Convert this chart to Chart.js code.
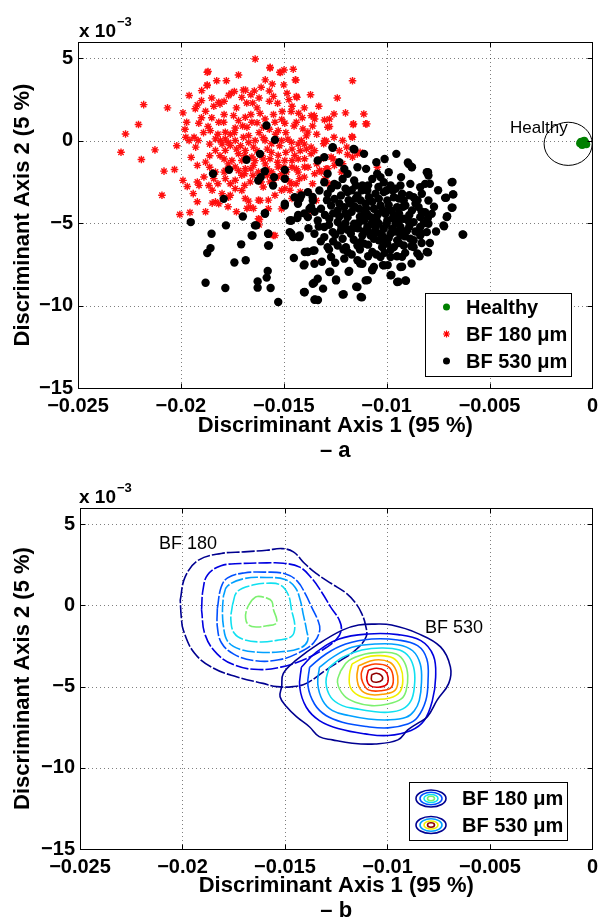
<!DOCTYPE html>
<html>
<head>
<meta charset="utf-8">
<script src="https://cdn.jsdelivr.net/npm/chart.js@4.4.1/dist/chart.umd.min.js"></script>
<style>
  html, body { margin: 0; padding: 0; background: #fff; }
  #wrap { position: relative; width: 604px; height: 919px; }
  canvas { position: absolute; left: 0; }
</style>
</head>
<body>
<div id="wrap">
  <canvas id="scatterChart" width="604" height="460" style="top:0"></canvas>
  <canvas id="contourChart" width="604" height="459" style="top:460px"></canvas>
</div>
<script>
// axis values are in units of 1e-3
const xTicks = [-25, -20, -15, -10, -5, 0];
const yTicks = [-15, -10, -5, 0, 5];

const healthy = [[-0.55,-0.05],[-0.45,-0.2],[-0.35,-0.1],[-0.5,-0.25],[-0.4,0.0],[-0.3,-0.2],[-0.6,-0.15],[-0.42,-0.12]];
const healthyRing = { x: -1.18, y: -0.18, rx: 1.17, ry: 1.31 };

const bf180 = [
  [-21.81,2.2],[-20.65,2.0],[-22.69,0.42],[-22.06,0.99],[-22.91,-0.69],[-21.26,-0.55],[-21.92,-1.13],[-20.82,-1.84],[-20.31,-1.74],[-20.92,-3.3],[-20.05,-4.47],[-19.56,-4.35],[-19.69,-2.77],
  [-16.39,4.97],[-18.72,4.16],[-15.67,4.42],[-15.19,4.16],[-14.99,4.3],[-14.44,3.7],[-17.79,3.65],[-18.72,3.39],[-16.96,3.09],[-16.43,3.03],[-16.1,3.25],[-15.56,3.45],[-15.7,3.03],[-19.6,2.75],[-18.99,3.05],[-17.55,2.89],[-17.68,2.75],[-17.04,2.64],[-16.51,2.3],[-18.4,2.1],[-18.1,2.23],[-19.2,2.18],[-19.3,1.95],[-18.8,1.8],[-15.3,2.28],[-14.84,2.89],[-14.75,2.5],[-14.39,2.69],[-15.08,1.78],[-14.64,1.78],[-14.28,1.68],[-13.67,1.53],
  [-19.72,1.13],[-19.13,1.07],[-18.68,0.87],[-18.57,0.62],[-18.16,1.13],[-17.92,1.13],[-17.44,1.53],[-17.2,1.23],[-16.87,1.43],[-16.55,1.13],[-16.79,0.83],[-17.36,0.78],[-17.84,0.52],[-16.15,1.67],[-15.91,1.33],[-15.99,0.83],[-15.43,1.13],[-15.27,0.62],[-14.95,1.07],[-14.39,1.13],[-14.07,0.73],[-13.83,0.53],[-13.5,1.33],[-13.02,1.27],[-12.86,0.83],[-13.02,0.02],[-13.67,-0.38],
  [-19.76,0.22],[-19.6,0.02],[-19.36,0.22],[-19.16,0.02],[-19.28,-0.38],[-18.32,0.12],[-18.08,0.02],[-17.84,0.12],[-17.6,-0.28],[-17.36,0.02],[-16.96,0.22],[-16.71,0.32],[-16.39,0.02],[-16.47,-0.38],[-15.91,0.02],[-15.59,-0.18],[-15.11,0.02],[-14.63,-0.08],[-14.15,0.02],
  [-18.32,-0.58],[-17.84,-0.58],[-17.2,-0.78],[-16.87,-0.58],[-17.52,-1.19],[-17.04,-1.19],[-16.55,-0.98],[-16.07,-0.88],[-15.67,-1.09],[-15.27,-0.88],[-14.95,-1.19],[-14.47,-0.88],[-13.99,-1.09],[-13.67,-0.78],[-13.18,-1.09],[-12.7,-0.98],
  [-19.2,-1.49],[-18.8,-1.29],[-18.88,-2.19],[-18.32,-1.89],[-17.84,-1.79],[-17.36,-1.59],[-16.87,-1.69],[-16.47,-1.49],[-16.23,-1.89],[-15.59,-1.89],[-15.27,-1.59],[-14.87,-1.89],[-14.39,-1.69],[-13.99,-1.59],[-13.26,-1.79],[-12.94,-1.69],[-12.54,-1.49],
  [-18.4,-2.29],[-17.84,-2.29],[-17.36,-2.39],[-17.04,-2.09],[-16.63,-2.49],[-16.15,-2.29],[-15.67,-2.49],[-15.27,-2.19],[-14.71,-2.49],[-14.23,-2.29],[-19.12,-2.7],[-18.48,-3.0],[-18.0,-3.2],[-17.36,-2.9],[-16.87,-3.5],[-16.23,-3.6],[-15.43,-3.3],[-14.95,-2.9],[-19.2,-3.7],[-18.32,-3.7],[-17.71,-4.0],[-16.79,-4.1],
  [-12.78,0.87],[-11.61,1.03],[-11.02,1.03],[-11.69,0.26],[-12.14,0.02],[-12.94,-0.02],[-13.5,-0.59],[-11.9,-0.83],[-11.42,-0.79],[-12.14,-1.39],[-12.86,-1.69],[-13.18,-1.89],[-13.82,-1.6],[-14.3,-1.9],[-14.63,-2.6],[-15.11,-3.0],[-15.75,-3.6],[-13.42,-3.62],[-13.82,-4.53],[-15.51,-5.74],[-13.5,-7.42],[-10.45,-1.6],[-16.23,-4.73],[-16.47,-4.1],
  [-11.66,3.65],[-11.11,1.63],[-10.96,1.03],[-11.63,0.99],[-12.56,1.63],[-13.52,1.53],[-14.36,2.64],[-14.54,4.35],[-14.41,3.69],[-15.16,4.15],[-15.66,4.46],[-16.86,3.08],[-18.26,3.65],[-18.68,4.21],[-18.72,3.35],[-18.16,2.34],[-19.0,2.44],[-12.78,1.33],[-13.06,-0.18],[-12.56,0.22],[-11.66,0.22],[-11.94,-0.38],[-11.66,-0.99],[-11.29,-0.69],
  [-19.2,-2.5],[-18.64,-2.71],[-18.48,-3.78],[-18.16,-3.82],[-17.68,-3.42],[-17.04,-3.01],[-16.71,-3.66],[-16.63,-4.02],[-16.15,-3.62],[-15.75,-4.12],[-15.11,-4.13],[-16.18,-4.77],[-15.43,-5.74],
  [-17.9,1.6],[-17.6,0.4],[-17.1,-0.3],[-16.7,-0.1],[-16.2,0.5],[-15.8,-0.5],[-15.4,0.4],[-14.9,0.5],[-14.6,-0.5],[-14.2,-0.6],[-17.9,-1.1],[-16.4,-1.2],[-15.9,-1.4],[-15.0,-1.6],[-14.6,-1.2],[-16.9,-2.0],[-15.8,-2.1],[-14.9,-2.3],[-17.6,-2.6],[-16.0,-2.8],[-18.6,-0.9],[-18.9,0.5],[-16.3,2.0],[-15.7,2.4],[-14.1,1.4],[-13.4,0.4],[-12.3,-0.6],[-13.0,-2.3],[-13.6,-2.6],[-14.2,-3.1],[-16.6,2.8],[-17.3,2.0],[-18.0,-0.2],[-15.2,-0.3],[-14.0,-0.2],
  [-18.5,1.4],[-18.2,0.4],[-17.7,-0.1],[-17.4,0.5],[-17.0,0.9],[-16.6,1.6],[-16.3,1.1],[-16.0,0.2],[-15.7,0.7],[-15.5,1.6],[-15.1,1.3],[-14.8,0.1],[-14.5,0.9],[-14.3,-0.2],[-13.9,0.3],[-13.6,0.9],
  [-18.6,-0.2],[-18.1,-0.9],[-17.7,-1.4],[-17.3,-0.5],[-16.9,-0.9],[-16.6,-1.7],[-16.3,-0.6],[-16.0,-1.1],[-15.6,-0.7],[-15.3,-1.3],[-14.9,-0.7],[-14.6,-1.6],[-14.3,-1.1],[-13.9,-0.5],[-13.4,-1.4],
  [-18.6,-1.6],[-18.2,-2.6],[-17.9,-1.9],[-17.6,-3.3],[-17.2,-1.8],[-16.9,-2.7],[-16.5,-2.1],[-16.1,-2.5],[-15.8,-1.7],[-15.5,-2.4],[-15.1,-2.0],[-14.7,-3.0],[-14.4,-2.6],[-14.0,-2.2],[-13.5,-2.0],
  [-19.0,1.4],[-18.5,2.6],[-17.9,2.4],[-17.4,3.0],[-16.8,2.3],[-16.2,2.6],[-15.5,2.7],[-15.0,3.4],[-14.6,2.1],[-14.0,2.0],[-13.3,2.1],[-12.4,2.6],[-12.0,1.7],[-12.6,-1.1],[-12.2,-1.9],
  [-19.5,-1.0],[-19.8,0.7],[-20.2,-0.3],[-19.9,-2.4],[-19.4,-3.2],[-18.8,-4.3],[-17.3,-4.3],[-16.2,-5.1],[-14.6,-3.5],[-13.8,-3.1],[-12.8,-2.6],[-13.7,2.8],[-15.9,3.7],[-17.2,4.0],[-19.9,1.7]
];

const bf530 = [
  [-15.84,0.93],[-15.43,0.06],[-16.16,-0.79],[-15.92,-1.84],[-16.24,-2.41],[-15.52,-2.71],[-14.95,-1.76],[-14.95,-3.92],[-15.92,-4.39],[-16.4,-5.13],[-16.56,-5.74],[-15.76,-5.64],[-15.76,-6.35],[-14.63,-5.64],[-14.31,-5.84],[-14.71,-4.83],[-14.34,-4.69],[-13.75,-4.12],
  [-12.62,-0.39],[-11.61,-0.49],[-11.1,-0.79],[-12.06,-1.7],[-11.42,-1.6],[-11.9,-2.0],[-10.46,-2.0],[-10.3,-2.2],[-9.53,-0.79],[-8.93,-1.4],[-8.77,-1.6],[-8.05,-1.9],[-7.97,-2.1],
  [-13.03,-2.51],[-12.54,-2.61],[-12.14,-2.31],[-11.58,-2.41],[-11.18,-2.71],[-10.7,-2.31],[-10.14,-2.51],[-9.81,-2.71],[-9.33,-2.71],[-8.85,-2.61],[-8.37,-2.81],[-8.13,-2.61],[-6.84,-2.51],
  [-13.27,-3.01],[-12.87,-3.21],[-12.22,-3.32],[-11.9,-3.11],[-11.42,-3.32],[-10.94,-3.01],[-10.54,-3.21],[-10.14,-3.11],[-9.65,-3.42],[-9.25,-3.21],[-8.69,-3.42],[-8.29,-3.21],[-7.97,-3.62],[-7.16,-3.46],[-6.76,-3.25],
  [-14.31,-3.82],[-13.67,-4.02],[-13.19,-4.12],[-12.7,-3.92],[-12.38,-4.22],[-11.74,-3.82],[-11.34,-4.12],[-11.02,-3.82],[-10.62,-4.12],[-10.3,-3.92],[-9.89,-4.22],[-9.49,-4.02],[-9.09,-3.92],[-8.77,-4.22],[-8.45,-4.02],[-8.13,-4.33],[-7.81,-4.43],[-6.84,-4.06],[-7.08,-4.63],
  [-14.63,-4.83],[-13.83,-4.63],[-13.35,-4.83],[-12.79,-4.73],[-12.38,-4.93],[-11.9,-4.63],[-11.58,-5.03],[-11.1,-4.83],[-10.78,-4.63],[-10.38,-5.03],[-9.97,-4.83],[-9.57,-5.03],[-9.17,-4.73],[-8.69,-4.93],[-8.37,-5.23],[-7.97,-5.03],[-7.24,-5.13],
  [-14.71,-5.54],[-14.23,-5.84],[-13.51,-5.64],[-13.03,-5.84],[-12.62,-5.54],[-12.14,-5.94],[-11.74,-5.64],[-11.18,-5.74],[-10.86,-5.54],[-10.62,-5.94],[-10.22,-5.74],[-9.81,-5.64],[-9.33,-5.74],[-8.85,-5.94],[-8.37,-5.74],[-8.05,-5.54],[-6.31,-5.68],
  [-13.83,-6.75],[-13.51,-6.65],[-12.87,-6.45],[-12.38,-6.35],[-11.98,-6.45],[-11.42,-6.35],[-11.1,-6.24],[-10.7,-6.75],[-10.22,-6.45],[-9.97,-6.24],[-9.65,-6.45],[-9.17,-6.35],[-8.05,-6.75],
  [-13.51,-7.46],[-12.7,-7.05],[-12.06,-7.15],[-11.42,-7.25],[-11.18,-7.46],[-10.62,-7.66],[-10.3,-7.05],[-10.14,-7.56],[-9.81,-7.05],[-9.33,-7.66],
  [-13.59,-8.67],[-13.35,-8.37],[-12.79,-7.96],[-12.46,-8.47],[-11.82,-7.9],[-11.42,-8.87],[-11.02,-8.47],[-10.7,-7.86],[-9.81,-8.16],[-9.49,-8.57],[-9.09,-8.47],
  [-13.99,-9.17],[-13.51,-9.64],[-12.14,-9.33],[-11.26,-9.48],[-15.27,-9.78],
  [-11.26,-3.62],[-10.86,-3.42],[-10.38,-3.52],[-9.97,-3.62],[-11.1,-4.43],[-10.46,-4.53],[-10.06,-4.43],[-9.65,-4.53],[-10.94,-5.23],[-10.54,-5.34],[-10.14,-5.34],[-9.73,-5.34],[-11.26,-6.14],[-9.33,-5.23],[-10.38,-6.04],[-10.78,-5.74],
  [-14.47,-3.42],[-14.15,-3.32],[-13.83,-3.11],[-13.59,-3.62],[-12.87,-2.0],[-13.35,-1.19],[-13.03,-0.99],
  [-12.54,-3.52],[-12.06,-4.02],[-13.03,-5.23],[-12.22,-5.44],[-11.9,-6.75],[-9.49,-6.04],[-9.01,-5.44],[-8.69,-6.45],[-8.37,-4.63],[-9.17,-3.62],[-9.57,-2.91],[-11.5,-2.71],
  [-17.92,-3.52],[-19.52,-4.93],[-17.81,-5.13],[-16.99,-4.59],[-15.91,-4.42],[-16.34,-5.13],[-18.51,-5.64],[-16.52,-5.74],[-15.75,-5.64],[-17.07,-6.28],[-18.56,-6.51],[-18.72,-6.81],[-15.72,-6.35],[-16.85,-7.25],[-17.4,-7.38],[-15.78,-7.9],[-15.83,-8.3],[-16.27,-8.53],[-16.27,-8.91],[-15.64,-8.93],[-18.8,-8.61],[-17.84,-8.93],[-14.51,-7.11],[-14.03,-7.56],[-14.02,-9.18],[-14.55,-5.84],[-14.23,-5.74],[-14.66,-4.83],[-14.3,-4.5],[-14.95,-3.82],[-14.22,-3.52],[-13.98,-6.75],
  [-12.63,-0.42],[-11.57,-0.52],[-16.81,-1.15],[-17.66,-1.75],[-18.44,-2.0],[-16.12,-2.2],[-15.47,-2.2],[-14.95,-2.3],[-8.97,-1.31],[-8.79,-1.59],[-7.99,-1.9],[-6.8,-2.5],[-7.11,-3.45],[-6.78,-3.25],[-6.8,-4.05],[-7.06,-4.58],[-7.21,-5.18],[-6.28,-5.69],[-7.99,-6.77],
  [-9.06,-8.49],[-9.43,-8.55],[-9.77,-8.14],[-9.25,-7.64],[-11.2,-9.5],[-11.48,-8.85],[-12.09,-9.31],[-12.46,-8.41],[-12.74,-7.94],[-13.09,-8.97],[-13.34,-9.66],[-13.48,-9.62],[-13.52,-8.61],[-13.99,-9.19],[-13.99,-7.5],[-13.86,-6.73],[-13.58,-6.67],[-13.15,-7.34],[-12.5,-7.4],[-11.85,-7.94],[-11.29,-7.44],[-10.92,-8.45],[-10.7,-7.8],[-10.18,-7.54],[-9.95,-7.54],[-9.25,-7.04],[-8.79,-7.44],[-8.51,-6.83],[-8.32,-5.63],[-8.69,-6.03],
  [-12.9,-3.6],[-12.6,-4.4],[-12.3,-3.8],[-12.0,-4.4],[-11.7,-4.3],[-11.5,-3.5],[-11.3,-4.6],[-11.0,-4.1],[-10.7,-3.7],[-10.5,-4.8],[-10.2,-4.2],[-9.9,-3.9],[-9.7,-4.7],[-9.4,-4.4],[-9.2,-4.0],[-8.9,-4.5],[-8.6,-3.8],[-8.3,-4.3],
  [-12.8,-5.1],[-12.5,-5.7],[-12.2,-5.2],[-11.9,-5.4],[-11.6,-6.0],[-11.4,-5.3],[-11.1,-5.5],[-10.9,-6.3],[-10.6,-5.6],[-10.4,-4.4],[-10.1,-6.1],[-9.9,-5.9],[-9.6,-5.5],[-9.4,-6.2],[-9.1,-5.8],[-8.9,-5.2],[-8.6,-5.5],[-8.3,-6.2],
  [-12.6,-6.1],[-12.1,-6.6],[-11.7,-6.9],[-11.3,-6.6],[-10.9,-7.0],[-10.5,-6.9],[-10.1,-6.8],[-9.8,-6.6],[-9.5,-7.0],[-9.1,-6.8],[-8.8,-6.4],
  [-12.7,-2.9],[-12.4,-2.7],[-12.0,-2.9],[-11.7,-3.0],[-11.2,-3.0],[-10.9,-2.7],[-10.4,-2.8],[-10.0,-3.0],[-9.7,-3.0],[-9.4,-3.5],[-8.9,-3.3],[-8.5,-3.6],
  [-13.5,-4.3],[-13.3,-5.2],[-13.0,-4.5],[-12.8,-6.6],[-13.2,-6.1],[-13.8,-5.3],[-14.0,-4.4],[-13.6,-3.4],
  [-11.85,-3.6],[-11.55,-4.0],[-10.95,-4.45],[-10.75,-5.05],[-10.3,-5.65],[-10.0,-5.05],[-9.75,-4.25],[-9.4,-4.85],[-9.3,-5.45],[-8.95,-4.85],[-11.35,-4.95],[-11.65,-5.3],[-12.0,-5.0],[-12.3,-4.6],
  [-8.2,-5.0],[-8.0,-4.7],[-7.7,-4.0],[-7.6,-5.5],[-7.9,-6.2],[-8.4,-7.0],[-7.5,-3.0],[-7.9,-2.6],
  [-11.0,-1.7],[-10.5,-1.3],[-9.9,-1.9],[-9.3,-2.2],[-12.3,-1.3],[-10.1,-1.1]
];

// density contour rings, outermost first
const levelColors = ['#000090', '#0000e0', '#0050ff', '#00a0ff', '#10e0f0', '#7cf070', '#f0f000', '#ffa000', '#ff4000', '#e00000', '#900000'];

const bf180Levels = [
  [[-20.11,0.33],[-19.87,1.76],[-19.22,2.79],[-18.11,3.2],[-17.0,3.3],[-15.89,3.4],[-15.15,3.5],[-14.59,3.3],[-14.04,2.58],[-13.48,1.97],[-12.74,1.35],[-12.0,0.74],[-11.54,0.12],[-11.26,-0.49],[-11.07,-1.21],[-11.04,-1.93],[-11.56,-2.75],[-12.3,-3.4],[-13.0,-3.98],[-13.96,-4.8],[-14.6,-5.0],[-15.4,-5.0],[-16.07,-4.8],[-17.37,-4.39],[-18.48,-3.87],[-19.41,-2.95],[-19.96,-1.52],[-20.06,-0.7]],
  [[-19.07,-0.27],[-19.0,0.96],[-18.77,1.89],[-18.12,2.44],[-17.16,2.58],[-15.88,2.62],[-15.08,2.6],[-14.28,2.36],[-13.7,1.68],[-13.2,0.8],[-12.77,-0.1],[-12.35,-0.9],[-12.25,-1.5],[-12.5,-2.1],[-13.24,-2.8],[-14.2,-3.4],[-15.2,-3.8],[-16.3,-3.95],[-17.4,-3.7],[-18.3,-3.0],[-18.9,-1.8]],
  [[-18.3,-0.2],[-18.12,1.1],[-17.8,1.7],[-17.0,2.0],[-15.9,2.05],[-15.0,1.95],[-14.4,1.5],[-14.0,0.7],[-13.7,-0.1],[-13.4,-0.9],[-13.3,-1.5],[-13.6,-2.3],[-14.3,-2.9],[-15.3,-3.35],[-16.5,-3.4],[-17.5,-3.0],[-18.1,-2.3],[-18.3,-1.3]],
  [[-18.0,0.6],[-17.8,1.2],[-17.0,1.65],[-15.9,1.72],[-15.0,1.6],[-14.5,1.1],[-14.25,0.3],[-14.1,-0.6],[-13.95,-1.5],[-13.9,-2.2],[-14.3,-2.65],[-15.2,-2.85],[-16.3,-2.88],[-17.2,-2.7],[-17.8,-2.2],[-18.0,-1.3],[-18.05,-0.3]],
  [[-17.56,0.04],[-17.32,0.86],[-16.52,1.27],[-15.88,1.37],[-15.24,1.27],[-14.84,0.66],[-14.68,-0.27],[-14.52,-1.29],[-14.68,-1.91],[-15.4,-2.15],[-16.2,-2.25],[-17.0,-2.11],[-17.48,-1.7],[-17.64,-0.88]],
  [[-16.6,0.35],[-16.36,0.55],[-15.88,0.45],[-15.64,0.25],[-15.56,-0.27],[-15.4,-0.88],[-15.48,-1.15],[-15.88,-1.25],[-16.36,-1.33],[-16.76,-1.22],[-16.92,-0.78],[-16.84,-0.16]]
];

const bf530Levels = [
  [[-15.16,-5.0],[-15.08,-4.18],[-14.44,-3.36],[-13.33,-2.34],[-12.2,-1.52],[-11.41,-1.21],[-10.61,-1.15],[-9.8,-1.21],[-8.53,-1.72],[-7.41,-2.55],[-6.93,-3.78],[-7.01,-4.8],[-7.57,-5.82],[-8.05,-6.85],[-8.53,-7.26],[-9.01,-7.67],[-9.49,-8.28],[-10.61,-8.53],[-11.72,-8.49],[-12.68,-8.28],[-13.33,-8.08],[-13.81,-7.47],[-14.44,-6.85],[-14.92,-6.24],[-15.24,-5.62]],
  [[-14.2,-3.81],[-13.48,-2.89],[-12.36,-2.07],[-10.93,-1.76],[-9.49,-1.8],[-8.37,-2.17],[-7.76,-3.09],[-7.65,-4.43],[-7.81,-5.86],[-8.21,-7.09],[-8.85,-7.7],[-9.97,-8.01],[-11.09,-7.91],[-12.36,-7.6],[-13.32,-7.09],[-13.96,-6.27],[-14.28,-5.04]],
  [[-13.8,-3.81],[-13.0,-2.99],[-12.04,-2.38],[-10.77,-2.07],[-9.49,-2.13],[-8.53,-2.48],[-8.08,-3.3],[-8.02,-4.63],[-8.13,-5.86],[-8.53,-6.89],[-9.01,-7.3],[-9.97,-7.54],[-11.01,-7.46],[-12.2,-7.19],[-13.0,-6.78],[-13.56,-6.07],[-13.88,-4.94]],
  [[-13.32,-3.81],[-12.68,-3.2],[-11.73,-2.58],[-10.61,-2.38],[-9.49,-2.42],[-8.77,-2.79],[-8.4,-3.61],[-8.34,-4.73],[-8.45,-5.86],[-8.69,-6.48],[-9.09,-6.89],[-9.97,-7.05],[-10.93,-6.99],[-11.89,-6.78],[-12.68,-6.48],[-13.16,-5.86],[-13.4,-4.84]],
  [[-12.84,-3.81],[-12.2,-3.2],[-11.25,-2.75],[-10.29,-2.62],[-9.41,-2.75],[-8.93,-3.2],[-8.69,-4.02],[-8.69,-5.04],[-8.85,-5.86],[-9.25,-6.37],[-9.97,-6.58],[-10.77,-6.52],[-11.49,-6.37],[-12.2,-6.17],[-12.76,-5.66],[-13.0,-4.73]],
  [[-12.28,-4.02],[-11.89,-3.4],[-11.09,-2.99],[-10.29,-2.89],[-9.57,-2.99],[-9.17,-3.5],[-9.01,-4.32],[-9.09,-5.25],[-9.33,-5.76],[-9.97,-6.07],[-10.77,-6.17],[-11.57,-5.96],[-12.12,-5.55],[-12.44,-4.73]],
  [[-11.73,-3.61],[-11.09,-3.2],[-10.45,-3.09],[-9.73,-3.24],[-9.36,-3.81],[-9.25,-4.63],[-9.41,-5.35],[-9.89,-5.7],[-10.69,-5.76],[-11.41,-5.55],[-11.81,-5.04],[-11.85,-4.22]],
  [[-11.41,-3.71],[-10.61,-3.36],[-9.89,-3.5],[-9.57,-4.02],[-9.49,-4.73],[-9.65,-5.25],[-10.13,-5.45],[-10.85,-5.49],[-11.33,-5.14],[-11.49,-4.43]],
  [[-11.17,-3.81],[-10.61,-3.61],[-9.97,-3.77],[-9.73,-4.32],[-9.81,-5.04],[-10.29,-5.25],[-10.93,-5.2],[-11.21,-4.73],[-11.28,-4.22]],
  [[-10.93,-3.98],[-10.53,-3.87],[-10.13,-4.02],[-9.97,-4.43],[-10.05,-4.88],[-10.45,-5.04],[-10.85,-4.94],[-11.01,-4.53]],
  [[-10.77,-4.26],[-10.53,-4.18],[-10.29,-4.32],[-10.26,-4.59],[-10.53,-4.73],[-10.77,-4.63]]
];

const FONT = '"Liberation Sans", Arial, Helvetica, sans-serif';
const toPts = arr => arr.map(p => ({ x: p[0], y: p[1] }));
const closeRing = arr => toPts(arr.concat([arr[0]]));

function fmtX(v) { return v === 0 ? '0' : '\u2212' + (Math.abs(v) / 1000); }
function fmtY(v) { return v < 0 ? '\u2212' + Math.abs(v) : String(v); }

function makeScales(xHeight, yWidth, xTitlePad) {
  return {
    x: {
      type: 'linear', min: -25, max: 0, bounds: 'data',
      afterBuildTicks: s => { s.ticks = xTicks.map(v => ({ value: v })); },
      afterFit: s => { s.height = xHeight; },
      grid: { display: false, drawTicks: false },
      border: { display: false },
      ticks: { padding: 6, color: '#000', autoSkip: false, maxRotation: 0, font: { family: FONT, size: 20, weight: 'bold' }, callback: fmtX },
      title: { display: true, text: 'Discriminant Axis 1 (95 %)', color: '#000', font: { family: FONT, size: 22, weight: 'bold' }, padding: { top: 0, bottom: xTitlePad } }
    },
    y: {
      type: 'linear', min: -15, max: 6, bounds: 'data',
      afterBuildTicks: s => { s.ticks = yTicks.map(v => ({ value: v })); },
      afterFit: s => { s.width = yWidth; },
      grid: { display: false, drawTicks: false },
      border: { display: false },
      ticks: { padding: 5, color: '#000', autoSkip: false, font: { family: FONT, size: 20, weight: 'bold' }, callback: fmtY },
      title: { display: true, text: 'Discriminant Axis 2 (5 %)', color: '#000', font: { family: FONT, size: 22, weight: 'bold' }, padding: { top: 10, bottom: 0 } }
    }
  };
}

// dotted grid under the data, box and inward ticks over it
const framePlugin = {
  id: 'frame',
  beforeDatasetsDraw(chart) {
    const { ctx, chartArea: a, scales: { x, y } } = chart;
    ctx.save();
    ctx.strokeStyle = 'rgba(0,0,0,0.5)';
    ctx.lineWidth = 1;
    ctx.setLineDash([1, 3]);
    ctx.beginPath();
    xTicks.forEach(v => {
      if (v <= x.min || v >= x.max) return;
      const p = Math.round(x.getPixelForValue(v)) + 0.5;
      ctx.moveTo(p, a.top); ctx.lineTo(p, a.bottom);
    });
    yTicks.forEach(v => {
      if (v <= y.min || v >= y.max) return;
      const p = Math.round(y.getPixelForValue(v)) + 0.5;
      ctx.moveTo(a.left, p); ctx.lineTo(a.right, p);
    });
    ctx.stroke();
    ctx.restore();
  },
  afterDatasetsDraw(chart) {
    const { ctx, chartArea: a, scales: { x, y } } = chart;
    const L = Math.round(a.left) + 0.5, R = Math.round(a.right) + 0.5;
    const T = Math.round(a.top) + 0.5, B = Math.round(a.bottom) + 0.5;
    ctx.save();
    ctx.strokeStyle = '#000';
    ctx.lineWidth = 1;
    ctx.strokeRect(L, T, R - L, B - T);
    ctx.beginPath();
    xTicks.forEach(v => {
      const p = Math.round(x.getPixelForValue(v)) + 0.5;
      ctx.moveTo(p, B); ctx.lineTo(p, B - 5);
      ctx.moveTo(p, T); ctx.lineTo(p, T + 5);
    });
    yTicks.forEach(v => {
      const p = Math.round(y.getPixelForValue(v)) + 0.5;
      ctx.moveTo(L, p); ctx.lineTo(L + 5, p);
      ctx.moveTo(R, p); ctx.lineTo(R - 5, p);
    });
    ctx.stroke();
    ctx.restore();
  }
};

function drawExponent(ctx, baseY) {
  ctx.fillStyle = '#000';
  ctx.textAlign = 'left';
  ctx.textBaseline = 'alphabetic';
  ctx.font = 'bold 19px ' + FONT;
  ctx.fillText('x 10', 79, baseY);
  ctx.font = 'bold 13px ' + FONT;
  ctx.fillText('\u22123', 117, baseY - 11);
}

function drawStar(ctx, cx, cy, r) {
  const d = r * Math.SQRT1_2;
  ctx.beginPath();
  ctx.moveTo(cx - r, cy); ctx.lineTo(cx + r, cy);
  ctx.moveTo(cx, cy - r); ctx.lineTo(cx, cy + r);
  ctx.moveTo(cx - d, cy - d); ctx.lineTo(cx + d, cy + d);
  ctx.moveTo(cx - d, cy + d); ctx.lineTo(cx + d, cy - d);
  ctx.stroke();
}

const scatterDecor = {
  id: 'scatterDecor',
  afterDraw(chart) {
    const { ctx, chartArea: a, scales: { x, y } } = chart;
    ctx.save();
    // ring round the healthy group
    const cx = x.getPixelForValue(healthyRing.x), cy = y.getPixelForValue(healthyRing.y);
    const rx = Math.abs(x.getPixelForValue(healthyRing.x + healthyRing.rx) - cx);
    const ry = Math.abs(y.getPixelForValue(healthyRing.y + healthyRing.ry) - cy);
    ctx.strokeStyle = '#000'; ctx.lineWidth = 1;
    ctx.beginPath(); ctx.ellipse(cx, cy, rx, ry, 0, 0, Math.PI * 2); ctx.stroke();
    ctx.fillStyle = '#000';
    ctx.font = '17px ' + FONT;
    ctx.textAlign = 'left'; ctx.textBaseline = 'alphabetic';
    ctx.fillText('Healthy', 510, 133);

    drawExponent(ctx, 37);

    // legend
    ctx.lineWidth = 1; ctx.strokeStyle = '#000';
    ctx.fillStyle = '#fff';
    ctx.fillRect(425.5, 293.5, 146, 83);
    ctx.strokeRect(425.5, 293.5, 146, 83);
    const rows = [307, 334, 361];
    ctx.fillStyle = 'rgb(0,128,0)';
    ctx.beginPath(); ctx.arc(446.5, rows[0], 3.5, 0, Math.PI * 2); ctx.fill();
    ctx.strokeStyle = '#ff0000'; ctx.lineWidth = 1.2;
    drawStar(ctx, 446.5, rows[1], 3.5);
    ctx.fillStyle = '#000';
    ctx.beginPath(); ctx.arc(446.5, rows[2], 3.5, 0, Math.PI * 2); ctx.fill();
    ctx.font = 'bold 20px ' + FONT;
    ctx.textBaseline = 'middle';
    ['Healthy', 'BF 180 \u03bcm', 'BF 530 \u03bcm'].forEach((t, i) => ctx.fillText(t, 466, rows[i] + 1));

    ctx.font = 'bold 22px ' + FONT;
    ctx.textAlign = 'center';
    ctx.fillText('\u2013 a', (a.left + a.right) / 2, 451);
    ctx.restore();
  }
};

const contourDecor = {
  id: 'contourDecor',
  afterDraw(chart) {
    const { ctx, chartArea: a } = chart;
    ctx.save();
    drawExponent(ctx, 43);
    ctx.fillStyle = '#000';
    ctx.font = '18px ' + FONT;
    ctx.textAlign = 'left'; ctx.textBaseline = 'middle';
    ctx.fillText('BF 180', 159, 84);
    ctx.fillText('BF 530', 425, 168);

    // legend with ring icons
    ctx.lineWidth = 1; ctx.strokeStyle = '#000';
    ctx.fillStyle = '#fff';
    ctx.fillRect(409.5, 322.5, 158, 58);
    ctx.strokeRect(409.5, 322.5, 158, 58);
    const rows = [338.5, 365];
    const icons = [[0, 2, 4, 5], [0, 3, 6, 10]];
    const radii = [[15, 8.5], [11, 6.2], [7, 4], [3.5, 2.2]];
    icons.forEach((lv, r) => {
      lv.forEach((li, k) => {
        ctx.strokeStyle = levelColors[li];
        ctx.lineWidth = 1.6;
        ctx.beginPath(); ctx.ellipse(431, rows[r], radii[k][0], radii[k][1], 0, 0, Math.PI * 2); ctx.stroke();
      });
    });
    ctx.fillStyle = '#000';
    ctx.font = 'bold 20px ' + FONT;
    ctx.fillText('BF 180 \u03bcm', 462, rows[0] + 1);
    ctx.fillText('BF 530 \u03bcm', 462, rows[1] + 1);

    ctx.font = 'bold 22px ' + FONT;
    ctx.textAlign = 'center';
    ctx.fillText('\u2013 b', (a.left + a.right) / 2, 451);
    ctx.restore();
  }
};

const commonPlugins = { legend: { display: false }, tooltip: { enabled: false } };

new Chart(document.getElementById('scatterChart'), {
  type: 'scatter',
  data: {
    datasets: [
      { label: 'BF 530 \u03bcm', data: toPts(bf530), order: 0, pointStyle: 'circle', pointRadius: 4.2, pointBorderWidth: 0, backgroundColor: '#000', borderColor: '#000' },
      { label: 'BF 180 \u03bcm', data: toPts(bf180), order: 1, pointStyle: 'star', pointRadius: 3.8, pointBorderWidth: 1.4, backgroundColor: '#ff0000', borderColor: '#ff1010' },
      { label: 'Healthy', data: toPts(healthy), order: 2, pointStyle: 'circle', pointRadius: 4, pointBorderWidth: 0, backgroundColor: 'rgb(0,128,0)', borderColor: 'rgb(0,128,0)' }
    ]
  },
  options: {
    responsive: false, animation: false, devicePixelRatio: 1,
    layout: { padding: { top: 42, right: 7, left: 0, bottom: 0 } },
    scales: makeScales(72, 78, 21),
    plugins: commonPlugins
  },
  plugins: [framePlugin, scatterDecor]
});

const contourSets = [];
bf530Levels.forEach((ring, i) => contourSets.push({
  label: 'BF 530 level ' + (i + 1), data: closeRing(ring), order: 1,
  showLine: true, pointRadius: 0, borderWidth: 1.6, tension: 0.4, fill: false, borderColor: levelColors[i]
}));
bf180Levels.forEach((ring, i) => contourSets.push({
  label: 'BF 180 level ' + (i + 1), data: closeRing(ring), order: 2,
  showLine: true, pointRadius: 0, borderWidth: 1.6, tension: 0.4, fill: false, borderColor: levelColors[i], borderDash: [13, 2]
}));

new Chart(document.getElementById('contourChart'), {
  type: 'scatter',
  data: { datasets: contourSets },
  options: {
    responsive: false, animation: false, devicePixelRatio: 1,
    layout: { padding: { top: 48, right: 3, left: 0, bottom: 0 } },
    scales: makeScales(70, 80, 20),
    plugins: commonPlugins
  },
  plugins: [framePlugin, contourDecor]
});
</script>
</body>
</html>
